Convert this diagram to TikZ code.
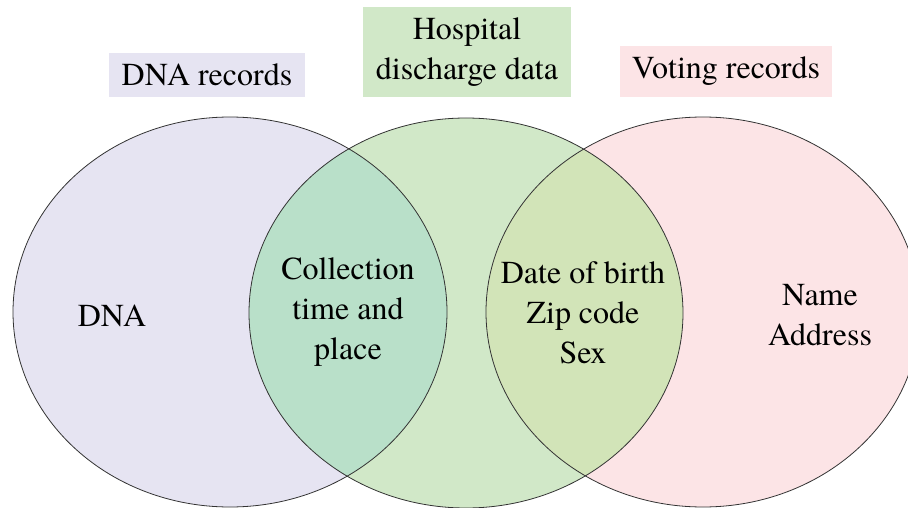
\documentclass[tikz,border=0pt]{standalone}
\usepackage{fontspec}
\setmainfont{texgyretermes-regular.otf}
\newfontfamily\labelfont{texgyretermes-regular.otf}
\usepackage{tikz}
\usetikzlibrary{positioning}

\definecolor{dnafill}{HTML}{E6E4F2}
\definecolor{hospfill}{HTML}{D1E8C8}
\definecolor{votefill}{HTML}{FCE4E6}
\definecolor{dnahosp}{HTML}{B9E0C9}
\definecolor{hospvote}{HTML}{D2E4B8}
\definecolor{rimcol}{HTML}{333333}

\tikzset{
  setlabel/.style={inner sep=0pt, align=center, font=\labelfont\fontsize{32}{40}\selectfont},
  titlebox/.style={setlabel, fill=#1},
  rim/.style={draw=rimcol, line width=0.8pt}
}

\begin{document}
\begin{tikzpicture}[x=1pt, y=-1pt]
  \useasboundingbox (0,0) rectangle (908,508);
  \clip (0,0) rectangle (908,508);

  % sets
  \fill[dnafill]  (230,312) ellipse [x radius=217, y radius=195];
  \fill[hospfill] (466,313) ellipse [x radius=217, y radius=195];
  \fill[votefill] (703,312) ellipse [x radius=217, y radius=195];
  \begin{scope}
    \clip (230,312) ellipse [x radius=217, y radius=195];
    \fill[dnahosp] (466,313) ellipse [x radius=217, y radius=195];
  \end{scope}
  \begin{scope}
    \clip (703,312) ellipse [x radius=217, y radius=195];
    \fill[hospvote] (466,313) ellipse [x radius=217, y radius=195];
  \end{scope}
  \draw[rim] (230,312) ellipse [x radius=217, y radius=195];
  \draw[rim] (466,313) ellipse [x radius=217, y radius=195];
  \draw[rim] (703,312) ellipse [x radius=217, y radius=195];

  % titles
  \node[titlebox=dnafill, minimum width=196pt, minimum height=44pt]  (dnatitle)  at (207,75)   {DNA records};
  \node[titlebox=hospfill, minimum width=208pt, minimum height=90pt] (hosptitle) at (467,52)   {Hospital\\discharge data};
  \node[titlebox=votefill, minimum width=212pt, minimum height=51pt] (votetitle) at (726,71.5) {Voting records};

  % contents
  \node[setlabel] (dna)      at (112,316) {DNA};
  \node[setlabel] (collect)  at (348,312) {Collection\\time and\\place};
  \node[setlabel] (demog)    at (583,313) {Date of birth\\Zip code\\Sex};
  \node[setlabel] (identity) at (820,315) {Name\\Address};
\end{tikzpicture}
\end{document}
